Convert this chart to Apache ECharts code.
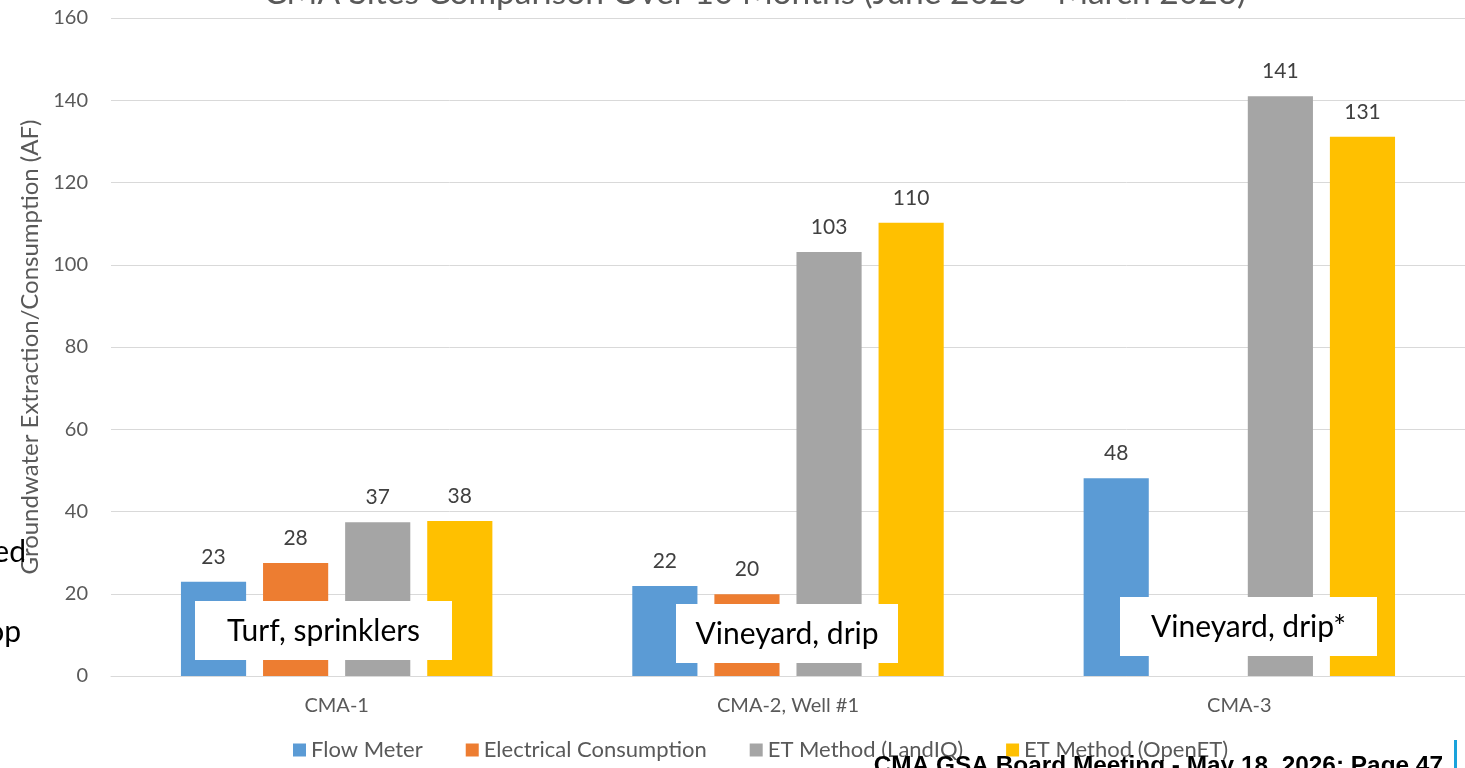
<!DOCTYPE html>
<html>
<head>
<meta charset="utf-8">
<script src="https://cdn.jsdelivr.net/npm/echarts@6/dist/echarts.min.js"></script>
<style>html,body{margin:0;padding:0;background:#fff;}#c{width:1465px;height:768px;}</style>
</head>
<body>
<div id="c"></div>
<script>
const categories = ['CMA-1', 'CMA-2, Well #1', 'CMA-3'];
const flowMeter = [22.9, 21.9, 48.1];
const electrical = [27.5, 19.9, null];
const etLandIQ = [37.4, 103.1, 141.0];
const etOpenET = [37.7, 110.2, 131.1];
const seriesNames = ['Flow Meter', 'Electrical Consumption', 'ET Method (LandIQ)', 'ET Method (OpenET)'];
const colors = ['#5B9BD5', '#ED7D31', '#A5A5A5', '#FFC000'];
const yTicks = { min: 0, max: 160, interval: 20 };
const titleText = 'CMA Sites Comparison Over 10 Months (June 2025 - March 2026)';
const yName = 'Groundwater Extraction/Consumption (AF)';
const annotations = ['Turf, sprinklers', 'Vineyard, drip', 'Vineyard, drip*'];
const footer = 'CMA GSA Board Meeting - May 18, 2026: Page 47';

const FONT = 'Lato';
const chart = echarts.init(document.getElementById('c'));
const data = [flowMeter, electrical, etLandIQ, etOpenET];

const series = seriesNames.map((n, i) => ({
  name: n,
  type: 'bar',
  data: data[i],
  barGap: '26%',
  barCategoryGap: '31%',
  itemStyle: { color: colors[i] },
  label: {
    show: true,
    position: 'top',
    distance: 14,
    color: '#404040',
    fontFamily: FONT,
    fontSize: 21,
    formatter: p => (p.value == null ? '' : Math.round(p.value))
  }
}));

const boxes = [
  { x: 195, y: 601, w: 257, h: 59 },
  { x: 676, y: 604, w: 222, h: 59 },
  { x: 1120, y: 597, w: 257, h: 59 }
];

const graphic = [
  { type: 'text', z: 10, style: { text: titleText, x: 755, y: -7, align: 'center', verticalAlign: 'middle', font: '33.5px ' + FONT, fill: '#595959' } },
  { type: 'text', z: 1, style: { text: 'Irrigated', x: 26, y: 552, align: 'right', verticalAlign: 'middle', font: '30px ' + FONT, fill: '#000' } },
  { type: 'text', z: 1, style: { text: 'Crop', x: 21, y: 632, align: 'right', verticalAlign: 'middle', font: '30px ' + FONT, fill: '#000' } },
  { type: 'text', z: 20, style: { text: footer, x: 1443, y: 766, align: 'right', verticalAlign: 'middle', font: 'bold 24.4px "Liberation Sans", Arial', fill: '#000' } },
  { type: 'rect', z: 20, shape: { x: 1454, y: 740, width: 3, height: 28 }, style: { fill: '#1AA3DC' } }
];
boxes.forEach((b, i) => {
  graphic.push({ type: 'rect', z: 30, shape: { x: b.x, y: b.y, width: b.w, height: b.h }, style: { fill: '#fff' } });
  graphic.push({ type: 'text', z: 31, style: { text: annotations[i], x: b.x + b.w / 2, y: b.y + b.h / 2 + 1, align: 'center', verticalAlign: 'middle', font: '30px ' + FONT, fill: '#000' } });
});

chart.setOption({
  animation: false,
  backgroundColor: '#fff',
  textStyle: { fontFamily: FONT },
  color: colors,
  grid: { left: 111, right: 0, top: 18, bottom: 92, containLabel: false },
  legend: {
    data: seriesNames,
    left: 288,
    top: 734,
    icon: 'rect',
    itemWidth: 13,
    itemHeight: 13,
    itemGap: 43,
    textStyle: { color: '#595959', fontSize: 22, fontFamily: FONT }
  },
  xAxis: {
    type: 'category',
    data: categories,
    axisLine: { lineStyle: { color: '#D9D9D9', width: 1 } },
    axisTick: { show: false },
    axisLabel: { color: '#595959', fontSize: 20, margin: 20, fontFamily: FONT }
  },
  yAxis: {
    type: 'value',
    min: yTicks.min,
    max: yTicks.max,
    interval: yTicks.interval,
    name: yName,
    nameLocation: 'middle',
    nameGap: 66,
    nameTextStyle: { color: '#595959', fontSize: 24, fontFamily: FONT },
    axisLine: { show: false },
    axisTick: { show: false },
    splitLine: { lineStyle: { color: '#D9D9D9', width: 1 } },
    axisLabel: { color: '#595959', fontSize: 20, margin: 23, fontFamily: FONT }
  },
  series: series,
  graphic: graphic
});
</script>
</body>
</html>
